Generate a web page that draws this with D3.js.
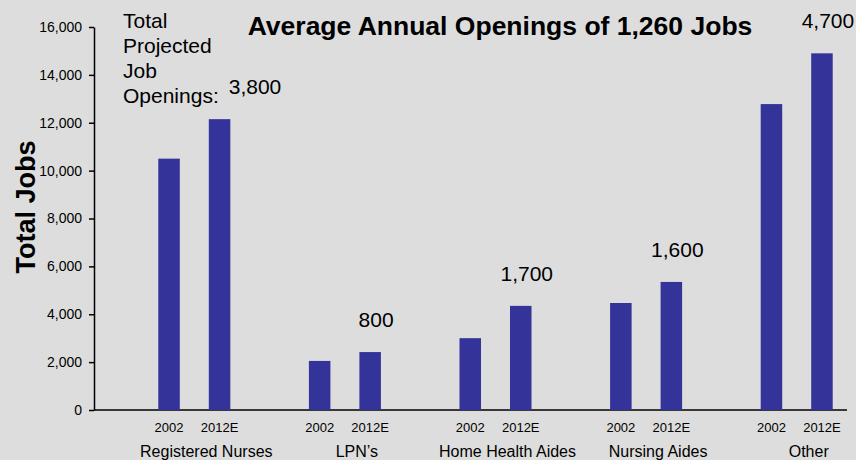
<html>
<head>
<meta charset="utf-8">
<script src="https://d3js.org/d3.v7.min.js"></script>
<style>
body {
  margin: 0;
  background: #dddddd;
}
svg {
  display: block;
}
text {
  font-family: Arial, "Liberation Sans", Helvetica, sans-serif;
  fill: #000;
}
.y-axis text {
  font-size: 14px;
}
.y-axis line, .y-axis path {
  stroke: #000;
  stroke-width: 1.5;
}
.bar {
  fill: #333399;
}
</style>
</head>
<body>
<svg width="856" height="460"></svg>
<script>

// data
var categories = ["Registered Nurses", "LPN\u2019s", "Home Health Aides", "Nursing Aides", "Other"];
var years = ["2002", "2012E"];
var jobs2002 = [10500, 2050, 3000, 4470, 12780];
var jobs2012 = [12150, 2420, 4350, 5350, 14900];
var openings = [3800, 800, 1700, 1600, 4700];
var yTicks = [0, 2000, 4000, 6000, 8000, 10000, 12000, 14000, 16000];

var data = categories.map(function(c, i) {
    return {cat: c, values: [
        {year: years[0], value: jobs2002[i]},
        {year: years[1], value: jobs2012[i]}
    ], open: openings[i]};
});

var svg = d3.select("svg"),
    width = +svg.attr("width"),
    height = +svg.attr("height"),
    plot = {left: 94, right: 847, top: 27, bottom: 410};

svg.append("rect")
    .attr("width", width).attr("height", height)
    .attr("fill", "#dddddd");

var y = d3.scaleLinear()
    .domain([0, 16000])
    .range([plot.bottom, plot.top]);

// groups are shifted right of the axis, last one runs into the page edge
var x0 = d3.scaleBand()
    .domain(categories)
    .range([plot.left + 25, plot.right + 25]);

var x1 = d3.scaleBand()
    .domain(years)
    .range([-50.5, 50.5])
    .paddingInner(0.574)
    .paddingOuter(0.287);

var fmt = d3.format(",");

// y axis
svg.append("g")
    .attr("class", "y-axis")
    .attr("transform", "translate(" + plot.left + ",0)")
    .call(d3.axisLeft(y).tickValues(yTicks).tickFormat(fmt)
        .tickSize(5).tickSizeOuter(0).tickPadding(7));

// baseline
svg.append("line")
    .attr("x1", plot.left).attr("x2", plot.right)
    .attr("y1", y(0)).attr("y2", y(0))
    .attr("stroke", "#000").attr("stroke-width", 1.5);

var groups = svg.selectAll(".layer")
    .data(data)
  .enter().append("g")
    .attr("class", "layer")
    .attr("transform", d => "translate(" + (x0(d.cat) + x0.bandwidth() / 2) + ",0)");

groups.selectAll(".bar")
    .data(d => d.values)
  .enter().append("rect")
    .attr("class", "bar")
    .attr("x", d => x1(d.year))
    .attr("width", x1.bandwidth())
    .attr("y", d => y(d.value))
    .attr("height", d => y(0) - y(d.value));

groups.selectAll(".yr")
    .data(d => d.values)
  .enter().append("text")
    .attr("class", "yr")
    .attr("x", d => x1(d.year) + x1.bandwidth() / 2)
    .attr("y", 432)
    .attr("text-anchor", "middle")
    .style("font-size", "13px")
    .text(d => d.year);

groups.append("text")
    .attr("x", 12)
    .attr("y", 457)
    .attr("text-anchor", "middle")
    .style("font-size", "16px")
    .text(d => d.cat);

// caption in the top-left
var caption = svg.append("text")
    .attr("x", 123)
    .attr("y", 28)
    .style("font-size", "21px");
["Total", "Projected", "Job", "Openings:"].forEach(function(t, i) {
    caption.append("tspan")
        .attr("x", 123)
        .attr("dy", i ? 25 : 0)
        .text(t);
});
var capBox = caption.node().getBBox();

// openings labels above the 2012E bar
groups.append("text")
    .attr("class", "open")
    .attr("x", d => x1(years[1]) + x1.bandwidth() / 2 + 6)
    .attr("y", d => y(d.values[1].value) - 25)
    .attr("text-anchor", "middle")
    .style("font-size", "21px")
    .text(d => fmt(d.open));

// first label sits just right of the caption
groups.filter((d, i) => i === 0).select(".open")
    .attr("text-anchor", "start")
    .attr("x", function(d) {
        return capBox.x + capBox.width + 10 - (x0(d.cat) + x0.bandwidth() / 2);
    });

// title
svg.append("text")
    .attr("x", 500)
    .attr("y", 35)
    .attr("text-anchor", "middle")
    .style("font-size", "26.5px")
    .style("font-weight", "bold")
    .text("Average Annual Openings of 1,260 Jobs");

// y title
svg.append("text")
    .attr("transform", "translate(35,207) rotate(-90)")
    .attr("text-anchor", "middle")
    .style("font-size", "27px")
    .style("font-weight", "bold")
    .text("Total Jobs");

</script>
</body>
</html>
